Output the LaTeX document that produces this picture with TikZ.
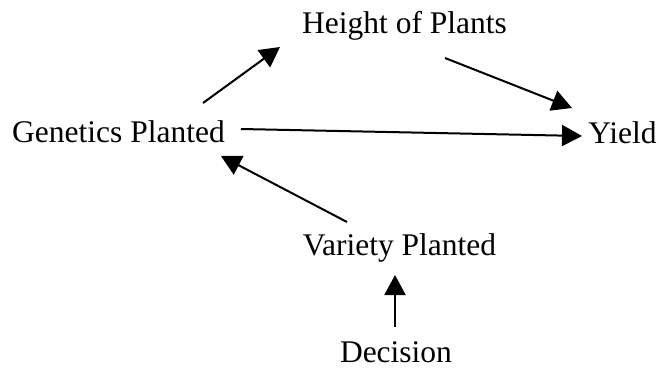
\documentclass[tikz,border=0pt]{standalone}
\usepackage{fontspec}
\setmainfont{Liberation Serif}
\usepackage{tikz}
\usetikzlibrary{arrows.meta}

\begin{document}
\begin{tikzpicture}[x=1pt,y=1pt,
                every node/.style={inner sep=0pt,anchor=base,font=\fontsize{31.5}{38}\selectfont},
                arr/.style={-{Triangle[length=20pt,width=21pt]},line width=2pt}]
        \useasboundingbox (0,0) rectangle (659,368);
        %----------------  nodes  ----------------
        \node (gen) at (118.5,225.5) {Genetics Planted};
        \node (hgt) at (404.5,335)   {Height of Plants};
        \node (yld) at (622.5,225)   {Yield};
        \node (var) at (399.5,113)   {Variety Planted};
        \node (dec) at (396,6)       {Decision};

        %----------------  arrows  ----------------
        \draw[arr] ([shift={(84.5,39.5)}]gen.base) -- ([shift={(-124.5,-14)}]hgt.base);
        \draw[arr] ([shift={(40.5,-25)}]hgt.base) -- ([shift={(-50.5,35)}]yld.base);
        \draw[arr] ([shift={(122.5,13.5)}]gen.base) -- ([shift={(-40.5,7)}]yld.base);
        \draw[arr] ([shift={(-52.5,33)}]var.base) -- ([shift={(102.5,-13.5)}]gen.base);
        \draw[arr] ([shift={(-1,35)}]dec.base) -- ([shift={(-4.5,-20)}]var.base);

\end{tikzpicture}
\end{document}
